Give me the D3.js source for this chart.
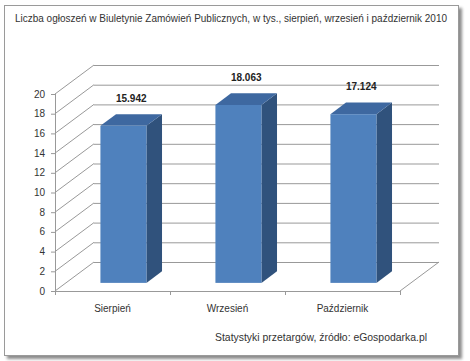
<!DOCTYPE html>
<html><head><meta charset="utf-8">
<script src="https://cdn.jsdelivr.net/npm/d3@7/dist/d3.min.js"></script>
<style>html,body{margin:0;padding:0;background:#fff;}svg{display:block;}</style>
</head><body>
<svg id="c" width="470" height="361"></svg>
<script>
const categories = ["Sierpień", "Wrzesień", "Październik"];
const values = [15.942, 18.063, 17.124];
const valueLabels = ["15.942", "18.063", "17.124"];
const yTicks = [0, 2, 4, 6, 8, 10, 12, 14, 16, 18, 20];
const title = "Liczba ogłoszeń w Biuletynie Zamówień Publicznych, w tys., sierpień, wrzesień i październik 2010";
const source = "Statystyki przetargów, źródło: eGospodarka.pl";

const svg = d3.select("#c");
const font = "'Liberation Sans', Arial, sans-serif";

const defs = svg.append("defs");
const f = defs.append("filter").attr("id","sh").attr("x","-5%").attr("y","-5%").attr("width","115%").attr("height","115%");
f.append("feDropShadow").attr("dx",3).attr("dy",3).attr("stdDeviation",1.8).attr("flood-color","#000").attr("flood-opacity",0.45);
svg.append("rect").attr("x",4.5).attr("y",5.5).attr("width",454).attr("height",350)
  .attr("fill","#fff").attr("stroke","#9a9a9a").attr("stroke-width",1).attr("filter","url(#sh)");

const x = d3.scaleBand().domain(categories).range([55, 400]);
const y = d3.scaleLinear().domain([0, 20]).range([291, 94]);
const DX = 39, DY = -29;
const grid = "#999";

const g = svg.append("g");
yTicks.forEach(t => {
  g.append("line").attr("x1", x.range()[0] + DX).attr("x2", x.range()[1] + DX)
    .attr("y1", y(t) + DY + 0.5).attr("y2", y(t) + DY + 0.5)
    .attr("stroke", grid).attr("stroke-width", 1);
  g.append("line").attr("x1", x.range()[0]).attr("y1", y(t))
    .attr("x2", x.range()[0] + DX).attr("y2", y(t) + DY)
    .attr("stroke", grid).attr("stroke-width", 1);
});
g.append("line").attr("x1", x.range()[1]).attr("y1", y(0))
  .attr("x2", x.range()[1] + DX).attr("y2", y(0) + DY).attr("stroke", grid);

const axG = svg.append("g");
axG.append("line").attr("x1", x.range()[0] + 0.5).attr("x2", x.range()[0] + 0.5)
  .attr("y1", y(20)).attr("y2", y(0)).attr("stroke", grid);
axG.append("line").attr("x1", x.range()[0]).attr("x2", x.range()[1])
  .attr("y1", y(0) + 0.5).attr("y2", y(0) + 0.5).attr("stroke", grid);
yTicks.forEach(t => {
  axG.append("line").attr("x1", x.range()[0] - 4).attr("x2", x.range()[0])
    .attr("y1", y(t) + 0.5).attr("y2", y(t) + 0.5).attr("stroke", grid);
  axG.append("text").attr("x", 45).attr("y", y(t)).attr("dy", "0.35em")
    .attr("text-anchor", "end").attr("font-family", font).attr("font-size", 10)
    .attr("fill", "#333").text(t);
});
const bounds = categories.map(c => x(c)).concat([x.range()[1]]);
bounds.forEach(b => {
  axG.append("line").attr("x1", b + 0.5).attr("x2", b + 0.5)
    .attr("y1", y(0)).attr("y2", y(0) + 4).attr("stroke", grid);
});
categories.forEach(c => {
  axG.append("text").attr("x", x(c) + x.bandwidth() / 2).attr("y", 308).attr("dy", "0.35em")
    .attr("text-anchor", "middle").attr("font-family", font).attr("font-size", 10)
    .attr("fill", "#333").text(c);
});

const d0 = 0.28, d1 = 0.68;
const bw = x.bandwidth() * 0.4;
const bars = svg.append("g");
values.forEach((v, i) => {
  const c = categories[i];
  const xl = x(c) + (x.bandwidth() - bw) / 2 + DX * d0;
  const xr = xl + bw;
  const yb = y(0) + DY * d0;
  const yt = y(v) + DY * d0;
  const ddx = DX * (d1 - d0), ddy = DY * (d1 - d0);
  bars.append("path").attr("d", `M${xr},${yt}L${xr + ddx},${yt + ddy}L${xr + ddx},${yb + ddy}L${xr},${yb}Z`)
    .attr("fill", "#30527c");
  bars.append("path").attr("d", `M${xl},${yt}L${xl + ddx},${yt + ddy}L${xr + ddx},${yt + ddy}L${xr},${yt}Z`)
    .attr("fill", "#3e68a0");
  bars.append("rect").attr("x", xl).attr("y", yt).attr("width", bw).attr("height", yb - yt)
    .attr("fill", "#4f81bd");
  svg.append("text").attr("x", (xl + xr + ddx) / 2).attr("y", yt + ddy - 16).attr("dy", "0.35em")
    .attr("text-anchor", "middle").attr("font-family", font).attr("font-size", 10)
    .attr("font-weight", "bold").attr("fill", "#222").text(valueLabels[i]);
});

svg.append("text").attr("x", 15).attr("y", 18).attr("dy", "0.35em")
  .attr("font-family", font).attr("font-size", 10.3).attr("fill", "#333")
  .attr("textLength", 432).attr("lengthAdjust", "spacingAndGlyphs").text(title);
svg.append("text").attr("x", 215).attr("y", 337).attr("dy", "0.35em")
  .attr("font-family", font).attr("font-size", 11).attr("fill", "#333")
  .attr("textLength", 212).attr("lengthAdjust", "spacingAndGlyphs").text(source);
</script>
</body></html>
